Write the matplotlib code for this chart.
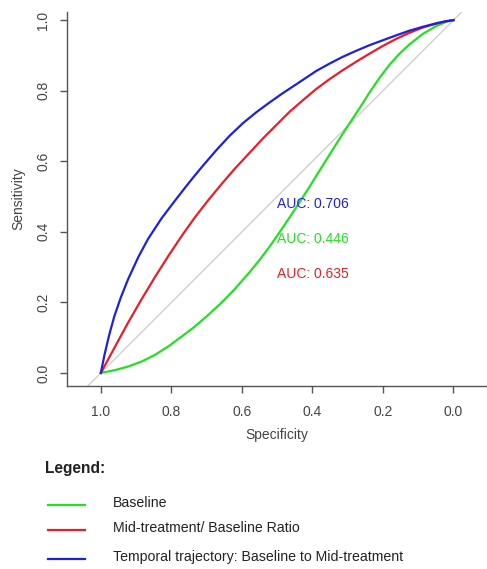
import matplotlib

matplotlib.use("Agg")
import matplotlib.pyplot as plt
from matplotlib.lines import Line2D

plt.rcParams["font.family"] = ["Liberation Sans", "DejaVu Sans"]

# ROC curves: (specificity, sensitivity)
baseline_spec = [1.0, 0.96, 0.923, 0.885, 0.847, 0.809, 0.771, 0.734, 0.696, 0.658,
                 0.62, 0.583, 0.55, 0.52, 0.484, 0.45, 0.41, 0.37, 0.323, 0.295,
                 0.266, 0.238, 0.21, 0.181, 0.153, 0.125, 0.087, 0.049, 0.021, 0.0]
baseline_sens = [0.0, 0.008, 0.018, 0.032, 0.051, 0.075, 0.103, 0.131, 0.164, 0.199,
                 0.238, 0.28, 0.32, 0.36, 0.412, 0.463, 0.525, 0.589, 0.664, 0.707,
                 0.751, 0.795, 0.836, 0.874, 0.905, 0.931, 0.961, 0.983, 0.995, 1.0]

ratio_spec = [1.0, 0.96, 0.923, 0.885, 0.847, 0.809, 0.771, 0.734, 0.696, 0.658,
              0.62, 0.58, 0.54, 0.50, 0.465, 0.427, 0.389, 0.351, 0.314, 0.276,
              0.238, 0.2, 0.162, 0.125, 0.087, 0.049, 0.02, 0.0]
ratio_sens = [0.0, 0.074, 0.142, 0.208, 0.271, 0.331, 0.388, 0.44, 0.489, 0.535,
              0.579, 0.622, 0.665, 0.705, 0.74, 0.773, 0.805, 0.833, 0.858, 0.882,
              0.905, 0.927, 0.947, 0.964, 0.979, 0.99, 0.997, 1.0]

traj_spec = [1.0, 0.99, 0.977, 0.962, 0.943, 0.923, 0.894, 0.866, 0.828, 0.79,
             0.762, 0.739, 0.71, 0.672, 0.635, 0.597, 0.559, 0.521, 0.484, 0.446,
             0.413, 0.389, 0.351, 0.314, 0.276, 0.238, 0.2, 0.162, 0.125, 0.087,
             0.049, 0.021, 0.0]
traj_sens = [0.0, 0.05, 0.105, 0.16, 0.215, 0.265, 0.328, 0.38, 0.438, 0.488,
             0.524, 0.553, 0.588, 0.632, 0.672, 0.708, 0.739, 0.767, 0.793, 0.818,
             0.84, 0.856, 0.877, 0.896, 0.913, 0.929, 0.943, 0.957, 0.97, 0.981,
             0.991, 0.997, 1.0]

series = [
    ("Baseline", baseline_spec, baseline_sens, "#22e022", "AUC: 0.446"),
    ("Mid-treatment/ Baseline Ratio", ratio_spec, ratio_sens, "#ee1c24", "AUC: 0.635"),
    ("Temporal trajectory: Baseline to Mid-treatment", traj_spec, traj_sens, "#1f1fe0", "AUC: 0.706"),
]
auc_y = {"AUC: 0.706": 0.48, "AUC: 0.446": 0.38, "AUC: 0.635": 0.28}
ticks = [0.0, 0.2, 0.4, 0.6, 0.8, 1.0]

fig = plt.figure(figsize=(4.87, 5.69), dpi=100)
ax = fig.add_axes([67 / 487, 1 - 386 / 569, 420 / 487, 374 / 569])

ax.axline((1.0, 0.0), (0.0, 1.0), color="#d0d0d0", lw=1.0, zorder=1)
for label, spec, sens, color, auc in series:
    ax.plot(spec, sens, color=color, lw=1.6, zorder=2, solid_joinstyle="round")
    ax.text(0.5, auc_y[auc], auc, color=color, fontsize=10, ha="left", va="center")

ax.set_xlim(1.096, -0.095)
ax.set_ylim(-0.037, 1.023)
ax.set_xticks(ticks)
ax.set_yticks(ticks)
ax.set_xticklabels([f"{t:.1f}" for t in ticks])
ax.set_yticklabels([f"{t:.1f}" for t in ticks])
for s in ("top", "right"):
    ax.spines[s].set_visible(False)
for s in ("left", "bottom"):
    ax.spines[s].set_color("#555555")
    ax.spines[s].set_linewidth(1.0)
ax.tick_params(axis="both", direction="out", length=5, width=1.0, color="#555555",
               labelcolor="#444444", labelsize=10)
ax.tick_params(axis="x", pad=9)
ax.tick_params(axis="y", pad=7, labelrotation=90)
for lab in ax.get_yticklabels():
    lab.set_va("center")
ax.set_xlabel("Specificity", fontsize=10, color="#444444", labelpad=6)
ax.set_ylabel("Sensitivity", fontsize=10, color="#444444", labelpad=8)

# hand-drawn legend block under the plot
fig.text(45 / 487, 1 - 468 / 569, "Legend:", fontsize=11.2, fontweight="bold",
         color="#222222", ha="left", va="center")
row_y = [505, 530, 559]
for (label, _, _, color, _), y in zip(series, row_y):
    fy = 1 - y / 569
    fig.add_artist(Line2D([48 / 487, 85 / 487], [fy, fy], color=color, lw=1.6,
                          transform=fig.transFigure))
    fig.text(113 / 487, fy + 2 / 569, label, fontsize=10.2, color="#222222",
             ha="left", va="center")

fig.savefig("out.png", dpi=100)
